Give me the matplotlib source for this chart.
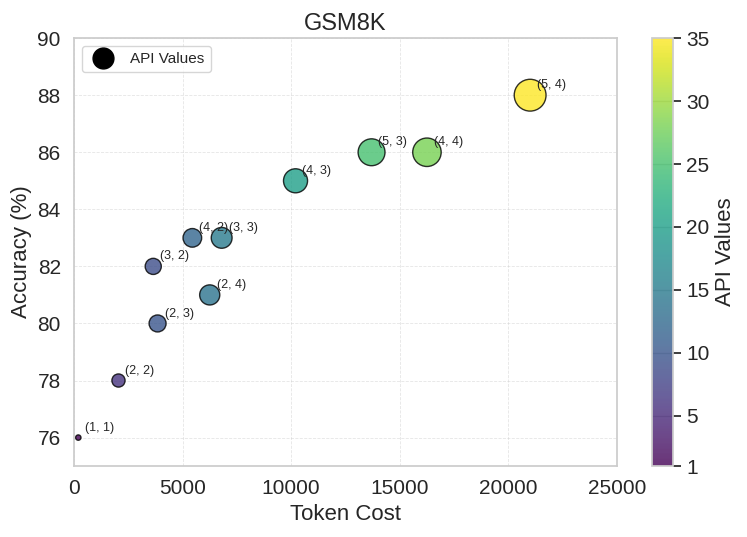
import matplotlib
matplotlib.use("Agg")
import matplotlib.pyplot as plt
from matplotlib.lines import Line2D
import seaborn as sns
import numpy as np

sns.set_theme(style="whitegrid")
plt.rcParams['font.family'] = ['Liberation Sans', 'DejaVu Sans']

# (n, m) configs, token cost, accuracy and API call counts
configs = ["(1, 1)", "(2, 2)", "(3, 2)", "(2, 3)", "(4, 2)", "(2, 4)",
           "(3, 3)", "(4, 3)", "(5, 3)", "(4, 4)", "(5, 4)"]
token_cost = [200, 2050, 3650, 3850, 5450, 6250, 6800, 10200, 13700, 16250, 21000]
accuracy = [76, 78, 82, 80, 83, 81, 83, 85, 86, 86, 88]
api_values = [1, 6, 9, 10, 12, 14, 15, 20, 25, 28, 35]
cbar_ticks = [1, 5, 10, 15, 20, 25, 30, 35]

fig = plt.figure(figsize=(7.47, 5.37), dpi=100)
ax = fig.add_axes([0.099, 0.132, 0.727, 0.797])
cax = fig.add_axes([0.873, 0.132, 0.028, 0.797])

sizes = np.array(api_values) * 15
sc = ax.scatter(token_cost, accuracy, c=api_values, s=sizes, cmap='viridis',
                vmin=1, vmax=35, alpha=0.8, edgecolors='black', linewidths=1)

for x, y, lbl in zip(token_cost, accuracy, configs):
    ax.annotate(lbl, (x, y), xytext=(5, 5), textcoords='offset points', fontsize=9)

ax.set_xlim(0, 25000)
ax.set_ylim(75, 90)
ax.set_xticks([0, 5000, 10000, 15000, 20000, 25000])
ax.set_yticks([76, 78, 80, 82, 84, 86, 88, 90])
ax.tick_params(labelsize=15)
ax.set_xlabel("Token Cost", fontsize=16)
ax.set_ylabel("Accuracy (%)", fontsize=16)
ax.set_title("GSM8K", fontsize=17)
ax.grid(True, linestyle='--', linewidth=0.6, alpha=0.5)

handle = Line2D([], [], marker='o', linestyle='none', color='black',
                markersize=15, label='API Values')
ax.legend(handles=[handle], loc='upper left', fontsize=11)

cb = fig.colorbar(sc, cax=cax, ticks=cbar_ticks)
cb.set_label("API Values", fontsize=16)
cb.ax.tick_params(labelsize=15)
cb.outline.set_edgecolor('#cccccc')

fig.savefig("out.png", dpi=100)
